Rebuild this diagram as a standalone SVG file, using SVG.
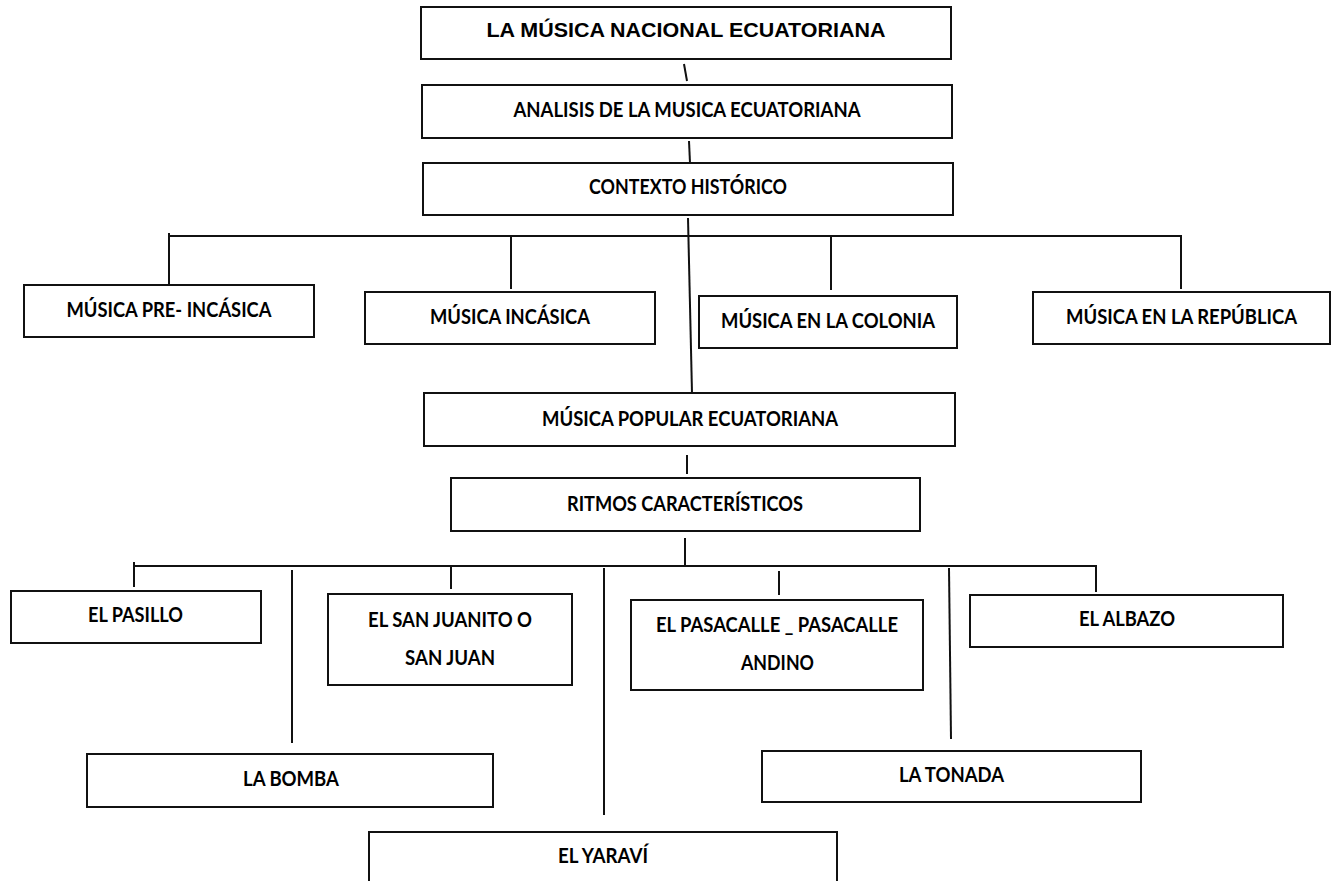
<svg xmlns="http://www.w3.org/2000/svg" width="1338" height="881" viewBox="0 0 1338 881">
<style>
.box{fill:#fff;stroke:#111;stroke-width:2}
.ln{stroke:#111;stroke-width:2;fill:none}
.t{font-family:Lato,"Open Sans",sans-serif;font-weight:700;font-size:20px;fill:#000;text-anchor:middle}
.h{font-family:"Liberation Sans",Arial,sans-serif;font-weight:700;font-size:21px;fill:#000;text-anchor:middle}
</style>
<rect width="1338" height="881" fill="#fff"/>
<g id="connectors">
<line class="ln" x1="684" y1="64" x2="687" y2="81"/>
<line class="ln" x1="689" y1="141" x2="690" y2="163"/>
<line class="ln" x1="688" y1="218" x2="692" y2="393"/>
<line class="ln" x1="169" y1="236" x2="1182" y2="236"/>
<line class="ln" x1="169" y1="233" x2="169" y2="285"/>
<line class="ln" x1="511" y1="236" x2="511" y2="289"/>
<line class="ln" x1="831" y1="236" x2="831" y2="290"/>
<line class="ln" x1="1181" y1="236" x2="1181" y2="289"/>
<line class="ln" x1="687" y1="455" x2="687" y2="474"/>
<line class="ln" x1="685" y1="538" x2="685" y2="565"/>
<line class="ln" x1="134" y1="566" x2="1097" y2="566"/>
<line class="ln" x1="134" y1="562" x2="134" y2="587"/>
<line class="ln" x1="292" y1="570" x2="292" y2="743"/>
<line class="ln" x1="451" y1="566" x2="451" y2="589"/>
<line class="ln" x1="604" y1="568" x2="604" y2="815"/>
<line class="ln" x1="779" y1="571" x2="779" y2="595"/>
<line class="ln" x1="949" y1="568" x2="951" y2="739"/>
<line class="ln" x1="1096" y1="566" x2="1096" y2="592"/>
</g>
<g id="n-titulo"><rect class="box" x="421" y="7" width="530" height="52"/><text class="h" x="686" y="37" textLength="399" lengthAdjust="spacingAndGlyphs">LA MÚSICA NACIONAL ECUATORIANA</text></g>
<g id="n-analisis"><rect class="box" x="422" y="85" width="530" height="53"/><text class="t" x="687" y="117" textLength="347" lengthAdjust="spacingAndGlyphs">ANALISIS DE LA MUSICA ECUATORIANA</text></g>
<g id="n-contexto"><rect class="box" x="423" y="163" width="530" height="52"/><text class="t" x="688" y="194" textLength="198" lengthAdjust="spacingAndGlyphs">CONTEXTO HISTÓRICO</text></g>
<g id="n-preincasica"><rect class="box" x="24" y="285" width="290" height="52"/><text class="t" x="169" y="317" textLength="205" lengthAdjust="spacingAndGlyphs">MÚSICA PRE- INCÁSICA</text></g>
<g id="n-incasica"><rect class="box" x="365" y="292" width="290" height="52"/><text class="t" x="510" y="324" textLength="160" lengthAdjust="spacingAndGlyphs">MÚSICA INCÁSICA</text></g>
<g id="n-colonia"><rect class="box" x="699" y="296" width="258" height="52"/><text class="t" x="828" y="328" textLength="214" lengthAdjust="spacingAndGlyphs">MÚSICA EN LA COLONIA</text></g>
<g id="n-republica"><rect class="box" x="1033" y="292" width="297" height="52"/><text class="t" x="1181.5" y="324" textLength="231" lengthAdjust="spacingAndGlyphs">MÚSICA EN LA REPÚBLICA</text></g>
<g id="n-popular"><rect class="box" x="424" y="393" width="531" height="53"/><text class="t" x="690" y="426" textLength="296" lengthAdjust="spacingAndGlyphs">MÚSICA POPULAR ECUATORIANA</text></g>
<g id="n-ritmos"><rect class="box" x="451" y="478" width="469" height="53"/><text class="t" x="685" y="511" textLength="236" lengthAdjust="spacingAndGlyphs">RITMOS CARACTERÍSTICOS</text></g>
<g id="n-pasillo"><rect class="box" x="11" y="591" width="250" height="52"/><text class="t" x="135.5" y="622" textLength="95" lengthAdjust="spacingAndGlyphs">EL PASILLO</text></g>
<g id="n-sanjuanito"><rect class="box" x="328" y="594" width="244" height="91"/><text class="t" x="450" y="627" textLength="164" lengthAdjust="spacingAndGlyphs">EL SAN JUANITO O</text><text class="t" x="450" y="665" textLength="90" lengthAdjust="spacingAndGlyphs">SAN JUAN</text></g>
<g id="n-pasacalle"><rect class="box" x="631" y="600" width="292" height="90"/><text class="t" x="777" y="632" textLength="242" lengthAdjust="spacingAndGlyphs">EL PASACALLE _ PASACALLE</text><text class="t" x="777.5" y="670" textLength="73" lengthAdjust="spacingAndGlyphs">ANDINO</text></g>
<g id="n-albazo"><rect class="box" x="970" y="595" width="313" height="52"/><text class="t" x="1127" y="626" textLength="96" lengthAdjust="spacingAndGlyphs">EL ALBAZO</text></g>
<g id="n-bomba"><rect class="box" x="87" y="754" width="406" height="53"/><text class="t" x="291" y="786" textLength="96" lengthAdjust="spacingAndGlyphs">LA BOMBA</text></g>
<g id="n-tonada"><rect class="box" x="762" y="751" width="379" height="51"/><text class="t" x="951.5" y="782" textLength="105" lengthAdjust="spacingAndGlyphs">LA TONADA</text></g>
<g id="n-yaravi"><rect class="box" x="369" y="832" width="468" height="70"/><text class="t" x="603" y="863" textLength="90" lengthAdjust="spacingAndGlyphs">EL YARAVÍ</text></g>
</svg>
